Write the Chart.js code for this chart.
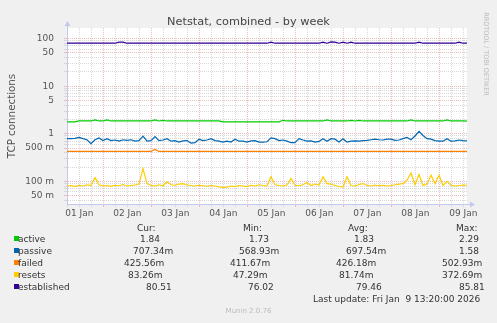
<!DOCTYPE html>
<html>
<head>
<meta charset="utf-8">
<script src="https://cdn.jsdelivr.net/npm/chart.js@4.4.1/dist/chart.umd.min.js"></script>
<style>
  body { margin: 0; background: #f0f0f0; }
  #wrap { position: relative; width: 497px; height: 323px; overflow: hidden; font-family: 'DejaVu Sans', sans-serif; color: #333; }
  #wrap canvas { position: absolute; left: 0; top: 0; }
  .txt { position: absolute; white-space: pre; font-size: 9px; line-height: 12px; }
  #title { left: 0; width: 497px; top: 14.5px; text-align: center; font-size: 11.3px; line-height: 14px; color: #444; }
  #ytitle { left: -89px; width: 200px; top: 109px; text-align: center; font-size: 10.3px; line-height: 14px; color: #555; transform: rotate(-90deg); }
  #mark { left: 436px; width: 100px; top: 49px; text-align: center; font-size: 6.5px; line-height: 10px; color: #bbb; transform: rotate(90deg); }
  #munin { left: 0; width: 497px; text-align: center; font-size: 7px; color: #bbb; }
  .sq { position: absolute; width: 5px; height: 5px; }
</style>
</head>
<body>
<div id="wrap">
  <canvas id="chart" width="497" height="323"></canvas>
  <div id="title" class="txt">Netstat, combined - by week</div>
  <div id="ytitle" class="txt">TCP connections</div>
  <div id="mark" class="txt">RRDTOOL / TOBI OETIKER</div>
</div>
<script>
// x axis: hours since 01 Jan 00:00, one sample every 2 hours
const hourStart = 5 + 50 / 60;
const hourStep = 2;
const hourEnd = hourStart + 200;
const dayLabels = ['01 Jan', '02 Jan', '03 Jan', '04 Jan', '05 Jan', '06 Jan', '07 Jan', '08 Jan', '09 Jan'];

const yMin = 0.0335;
const yMax = 167;
const yMajorValues = [0.05, 0.1, 0.5, 1, 5, 10, 50, 100];
const yMajorLabels = ['50 m', '100 m', '500 m', '1', '5', '10', '50', '100'];

const seriesNames = ['active', 'passive', 'failed', 'resets', 'established'];
const seriesColors = ['#00cc00', '#0066b3', '#ff8000', '#ffcc00', '#330099'];

const active = [
  1.78, 1.78, 1.78, 1.86, 1.86, 1.86, 1.86, 1.95, 1.86, 1.86, 1.95,
  1.86, 1.86, 1.86, 1.86, 1.86, 1.86, 1.86, 1.86, 1.86, 1.86,
  1.86, 1.95, 1.86, 1.92, 1.86, 1.86, 1.86, 1.86, 1.86, 1.86,
  1.86, 1.86, 1.86, 1.86, 1.86, 1.86, 1.86, 1.86, 1.78, 1.78,
  1.78, 1.78, 1.78, 1.78, 1.78, 1.78, 1.78, 1.78, 1.78, 1.78,
  1.78, 1.78, 1.78, 1.92, 1.86, 1.86, 1.86, 1.86, 1.86, 1.86,
  1.86, 1.86, 1.86, 1.86, 1.95, 1.86, 1.86, 1.86, 1.86, 1.86,
  1.92, 1.86, 1.92, 1.86, 1.86, 1.86, 1.86, 1.86, 1.86, 1.86,
  1.86, 1.86, 1.86, 1.86, 1.86, 1.95, 1.86, 1.86, 1.86, 1.86,
  1.86, 1.86, 1.86, 1.86, 1.95, 1.86, 1.86, 1.86, 1.86, 1.84
];
const passive = [
  0.79, 0.79, 0.80, 0.84, 0.79, 0.75, 0.62, 0.75, 0.82, 0.72, 0.79,
  0.72, 0.74, 0.70, 0.75, 0.73, 0.75, 0.70, 0.72, 0.89, 0.70,
  0.72, 0.87, 0.72, 0.74, 0.79, 0.70, 0.72, 0.67, 0.71, 0.72,
  0.64, 0.65, 0.77, 0.72, 0.74, 0.79, 0.72, 0.70, 0.67, 0.70,
  0.67, 0.77, 0.70, 0.70, 0.67, 0.71, 0.72, 0.67, 0.67, 0.68,
  0.82, 0.79, 0.72, 0.74, 0.70, 0.65, 0.65, 0.79, 0.74, 0.70,
  0.71, 0.67, 0.69, 0.79, 0.70, 0.79, 0.77, 0.67, 0.79, 0.67,
  0.70, 0.71, 0.70, 0.72, 0.73, 0.75, 0.77, 0.75, 0.74, 0.77,
  0.77, 0.73, 0.74, 0.79, 0.84, 0.75, 0.90, 1.12, 0.92, 0.79,
  0.77, 0.72, 0.70, 0.70, 0.79, 0.70, 0.71, 0.74, 0.72, 0.71
];
const failed = [
  0.426, 0.426, 0.426, 0.426, 0.426, 0.426, 0.426, 0.426, 0.426, 0.426, 0.426,
  0.426, 0.426, 0.426, 0.426, 0.426, 0.426, 0.426, 0.426, 0.426, 0.426,
  0.426, 0.470, 0.426, 0.426, 0.426, 0.426, 0.426, 0.426, 0.426, 0.426,
  0.426, 0.426, 0.426, 0.426, 0.426, 0.426, 0.426, 0.426, 0.426, 0.426,
  0.426, 0.426, 0.426, 0.426, 0.426, 0.426, 0.426, 0.426, 0.426, 0.426,
  0.426, 0.426, 0.426, 0.426, 0.426, 0.426, 0.426, 0.426, 0.426, 0.426,
  0.426, 0.426, 0.426, 0.426, 0.426, 0.426, 0.426, 0.426, 0.426, 0.426,
  0.426, 0.426, 0.426, 0.426, 0.426, 0.426, 0.426, 0.426, 0.426, 0.426,
  0.426, 0.426, 0.426, 0.426, 0.426, 0.426, 0.426, 0.426, 0.426, 0.426,
  0.426, 0.426, 0.426, 0.426, 0.426, 0.426, 0.426, 0.426, 0.426, 0.426
];
const resets = [
  0.080, 0.082, 0.078, 0.083, 0.080, 0.085, 0.082, 0.120, 0.085, 0.080, 0.082,
  0.079, 0.083, 0.081, 0.086, 0.080, 0.082, 0.084, 0.088, 0.185, 0.090,
  0.082, 0.080, 0.085, 0.081, 0.098, 0.085, 0.083, 0.088, 0.090, 0.084,
  0.082, 0.080, 0.083, 0.081, 0.079, 0.082, 0.080, 0.077, 0.075, 0.076,
  0.080, 0.078, 0.082, 0.080, 0.078, 0.083, 0.080, 0.085, 0.082, 0.080,
  0.125, 0.085, 0.082, 0.080, 0.084, 0.115, 0.083, 0.081, 0.085, 0.095,
  0.082, 0.088, 0.084, 0.125, 0.090, 0.088, 0.082, 0.078, 0.076, 0.125,
  0.082, 0.080, 0.086, 0.090, 0.082, 0.080, 0.084, 0.081, 0.083, 0.080,
  0.082, 0.085, 0.088, 0.090, 0.105, 0.150, 0.085, 0.140, 0.082, 0.088,
  0.135, 0.090, 0.135, 0.082, 0.100, 0.083, 0.080, 0.082, 0.084, 0.083
];
const established = [
  80, 80, 80, 80, 80, 80, 80, 80, 80, 80, 80,
  80, 80, 84, 84, 80, 80, 80, 80, 80, 80,
  80, 80, 80, 80, 80, 80, 80, 80, 80, 80,
  80, 80, 80, 80, 80, 80, 80, 80, 80, 80,
  80, 80, 80, 80, 80, 80, 80, 80, 80, 80,
  84, 80, 80, 80, 80, 80, 80, 80, 80, 80,
  80, 80, 80, 84, 80, 85, 84, 80, 84, 80,
  84, 80, 80, 80, 80, 80, 80, 80, 80, 80,
  80, 80, 80, 80, 80, 80, 80, 84, 80, 80,
  80, 80, 80, 80, 80, 80, 80, 84, 80, 80
];

const statHeads = ['Cur:', 'Min:', 'Avg:', 'Max:'];
const statCur = ['1.84', '707.34m', '425.56m', '83.26m', '80.51'];
const statMin = ['1.73', '568.93m', '411.67m', '47.29m', '76.02'];
const statAvg = ['1.83', '697.54m', '426.18m', '81.74m', '79.46'];
const statMax = ['2.29', '1.58', '502.93m', '372.69m', '85.81'];
const lastUpdate = 'Last update: Fri Jan  9 13:20:00 2026';
const muninVersion = 'Munin 2.0.76';

const seriesValues = [active, passive, failed, resets, established];
const sampleHours = passive.map((_, i) => hourStart + i * hourStep);

const majorGrid = '#efbcbc';
const minorGrid = '#d8d8d8';
const axisColor = '#c4c8ee';

const isMajorY = v => yMajorValues.some(m => Math.abs(m - v) / m < 1e-6);

const yGrid = [];
for (let e = -2; e <= 2; e++) {
  for (let m = 1; m <= 9; m++) {
    const v = m * Math.pow(10, e);
    if (v >= yMin && v <= yMax) yGrid.push(v);
  }
}
const xGrid = [];
for (let h = 6; h < hourEnd; h += 6) xGrid.push(h);

const frame = {
  id: 'frame',
  beforeDraw(chart) {
    const { ctx, chartArea: a } = chart;
    ctx.save();
    ctx.fillStyle = '#f0f0f0';
    ctx.fillRect(0, 0, chart.width, chart.height);
    ctx.fillStyle = '#ffffff';
    ctx.fillRect(a.left, a.top, a.right - a.left, a.bottom - a.top);
    ctx.restore();
  },
  afterDraw(chart) {
    const { ctx, chartArea: a } = chart;
    ctx.save();
    ctx.strokeStyle = axisColor;
    ctx.fillStyle = axisColor;
    ctx.lineWidth = 1;
    ctx.beginPath();
    ctx.moveTo(a.left + 0.5, a.top);
    ctx.lineTo(a.left + 0.5, a.top - 4);
    ctx.moveTo(a.right, a.bottom + 0.5);
    ctx.lineTo(a.right + 5, a.bottom + 0.5);
    ctx.stroke();
    ctx.beginPath();
    ctx.moveTo(a.left + 0.5, a.top - 7);
    ctx.lineTo(a.left - 2.5, a.top - 2);
    ctx.lineTo(a.left + 3.5, a.top - 2);
    ctx.closePath();
    ctx.fill();
    ctx.beginPath();
    ctx.moveTo(a.right + 8, a.bottom + 0.5);
    ctx.lineTo(a.right + 3, a.bottom - 2.5);
    ctx.lineTo(a.right + 3, a.bottom + 3.5);
    ctx.closePath();
    ctx.fill();
    ctx.restore();
  }
};

new Chart(document.getElementById('chart'), {
  type: 'line',
  data: {
    datasets: seriesNames.map((name, i) => ({
      label: name,
      data: seriesValues[i].map((v, k) => ({ x: sampleHours[k], y: v })),
      borderColor: seriesColors[i],
      borderWidth: 1.2,
      pointRadius: 0,
      tension: 0,
      fill: false
    }))
  },
  options: {
    responsive: false,
    animation: false,
    devicePixelRatio: 1,
    layout: { padding: { left: 0, top: 28, right: 30, bottom: 0 } },
    plugins: { legend: { display: false }, tooltip: { enabled: false }, title: { display: false } },
    scales: {
      x: {
        type: 'linear',
        min: hourStart,
        max: hourEnd,
        afterBuildTicks: s => { s.ticks = xGrid.map(v => ({ value: v })); },
        afterFit: s => { s.height = 119; },
        ticks: {
          autoSkip: false,
          maxRotation: 0,
          padding: 1,
          color: '#555',
          font: { family: 'DejaVu Sans', size: 9 },
          callback: v => (v % 24 === 12 ? dayLabels[(v - 12) / 24] : '')
        },
        grid: {
          color: c => (c.tick && c.tick.value % 24 === 0 ? majorGrid : minorGrid),
          lineWidth: 1,
          tickLength: 3
        },
        border: { display: true, color: axisColor, width: 1, dash: [1, 1] }
      },
      y: {
        type: 'logarithmic',
        min: yMin,
        max: yMax,
        afterBuildTicks: s => { s.ticks = yGrid.map(v => ({ value: v })); },
        afterFit: s => { s.width = 67; },
        ticks: {
          autoSkip: false,
          padding: 10,
          color: '#555',
          font: { family: 'DejaVu Sans', size: 9 },
          callback: v => {
            const i = yMajorValues.findIndex(m => Math.abs(m - v) / m < 1e-6);
            return i >= 0 ? yMajorLabels[i] : '';
          }
        },
        grid: {
          color: c => (c.tick && isMajorY(c.tick.value) ? majorGrid : minorGrid),
          lineWidth: 1,
          tickLength: 3
        },
        border: { display: true, color: axisColor, width: 1, dash: [1, 1] }
      }
    }
  },
  plugins: [frame]
});

// legend below the plot
const wrap = document.getElementById('wrap');
function addText(str, left, cy, cls) {
  const d = document.createElement('div');
  d.className = 'txt';
  if (cls) d.id = cls;
  d.textContent = str;
  if (left !== null) d.style.left = left + 'px';
  d.style.top = (cy - 6) + 'px';
  wrap.appendChild(d);
  return d;
}
const headLeft = [137, 243, 348, 456];
const cellLeft = [
  [140, 249, 354, 459],
  [133, 239, 346, 459],
  [124, 230, 336, 442],
  [128, 233, 339, 442],
  [146, 248, 356, 459]
];
statHeads.forEach((h, j) => addText(h, headLeft[j], 227.5));
seriesNames.forEach((name, i) => {
  const cy = 239 + i * 12;
  const sq = document.createElement('div');
  sq.className = 'sq';
  sq.style.left = '14px';
  sq.style.top = (cy - 3) + 'px';
  sq.style.background = seriesColors[i];
  wrap.appendChild(sq);
  addText(name, 18, cy);
  [statCur, statMin, statAvg, statMax].forEach((col, j) => addText(col[i], cellLeft[i][j], cy));
});
addText(lastUpdate, 313, 299);
addText(muninVersion, null, 311, 'munin');
</script>
</body>
</html>
